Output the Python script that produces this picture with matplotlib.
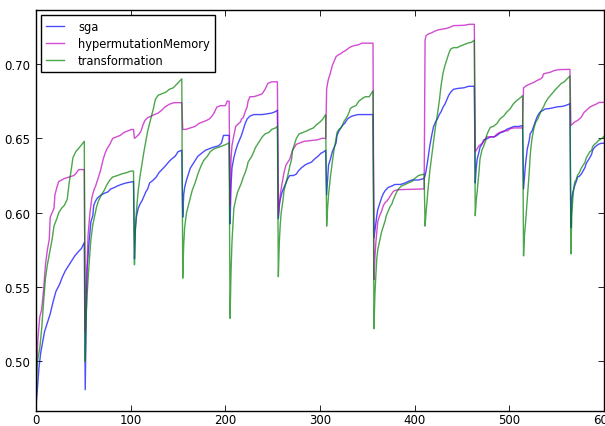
import matplotlib
matplotlib.use("Agg")
import matplotlib.pyplot as plt

# Best fitness per generation; the environment changes at the start of every block,
# which is where each curve falls before climbing again.

sga_x = [0, 2, 3, 5, 7, 9, 12, 15, 18, 21, 25, 28, 31, 35, 38, 41, 45, 48, 51,
         52, 53, 54, 56, 58, 60, 61, 63, 65, 69, 72, 76, 79, 83, 86, 90, 95, 103,
         104, 105, 106, 108, 110, 112, 114, 116, 118, 120, 122, 124, 127, 130, 133, 136, 140, 143, 147, 150, 154,
         155, 156, 157, 159, 161, 163, 165, 168, 171, 175, 179, 183, 187, 193, 196, 198, 204,
         205, 206, 207, 209, 211, 213, 215, 217, 219, 221, 223, 226, 230, 239, 249, 253, 255,
         256, 257, 258, 260, 262, 264, 266, 268, 272, 275, 277, 280, 284, 287, 291, 294, 298, 301, 304, 306,
         307, 308, 309, 311, 313, 315, 317, 318, 320, 322, 324, 326, 327, 329, 331, 334, 340, 356,
         357, 358, 359, 360, 361, 363, 365, 367, 369, 372, 376, 379, 385, 390, 393, 397, 404, 410,
         411, 412, 413, 414, 416, 418, 420, 422, 424, 426, 428, 430, 432, 434, 436, 438, 441, 446, 452, 457, 463,
         464, 465, 466, 468, 469, 471, 473, 476, 480, 484, 487, 490, 494, 497, 501, 505, 510, 514,
         515, 516, 517, 519, 521, 522, 524, 526, 528, 529, 531, 533, 535, 538, 542, 546, 549, 552, 556, 559, 563, 564,
         565, 566, 567, 569, 571, 572, 574, 576, 578, 580, 581, 583, 585, 587, 588, 590, 592, 594, 597, 600]
sga_y = [0.470, 0.486, 0.495, 0.506, 0.513, 0.520, 0.526, 0.532, 0.540, 0.547, 0.552, 0.557, 0.561, 0.565, 0.568, 0.571, 0.574, 0.576, 0.580,
         0.481, 0.530, 0.562, 0.580, 0.594, 0.598, 0.605, 0.608, 0.610, 0.612, 0.613, 0.614, 0.616, 0.617, 0.618, 0.619, 0.620, 0.621,
         0.569, 0.589, 0.597, 0.603, 0.606, 0.608, 0.611, 0.614, 0.616, 0.620, 0.621, 0.622, 0.624, 0.627, 0.629, 0.631, 0.634, 0.636, 0.638, 0.641, 0.642,
         0.597, 0.612, 0.617, 0.622, 0.626, 0.630, 0.632, 0.635, 0.638, 0.640, 0.642, 0.643, 0.644, 0.645, 0.647, 0.652, 0.652,
         0.5925, 0.618, 0.630, 0.637, 0.642, 0.646, 0.649, 0.652, 0.656, 0.660, 0.663, 0.665, 0.666, 0.666, 0.667, 0.668, 0.669,
         0.596, 0.605, 0.609, 0.614, 0.617, 0.620, 0.623, 0.625, 0.625, 0.626, 0.628, 0.630, 0.632, 0.633, 0.634, 0.636, 0.638, 0.640, 0.641, 0.642,
         0.612, 0.622, 0.632, 0.636, 0.641, 0.644, 0.647, 0.652, 0.655, 0.657, 0.659, 0.660, 0.661, 0.663, 0.664, 0.665, 0.666, 0.666,
         0.583, 0.588, 0.593, 0.598, 0.602, 0.606, 0.610, 0.613, 0.615, 0.617, 0.618, 0.619, 0.619, 0.620, 0.621, 0.622, 0.622, 0.623,
         0.625, 0.628, 0.632, 0.636, 0.645, 0.652, 0.658, 0.661, 0.663, 0.666, 0.668, 0.671, 0.673, 0.676, 0.679, 0.681, 0.683, 0.6836, 0.684, 0.685, 0.685,
         0.620, 0.630, 0.636, 0.641, 0.644, 0.646, 0.649, 0.6496, 0.651, 0.651, 0.652, 0.6536, 0.6545, 0.656, 0.657, 0.658, 0.658, 0.6586,
         0.616, 0.624, 0.632, 0.643, 0.6485, 0.653, 0.655, 0.6586, 0.662, 0.664, 0.6664, 0.668, 0.6686, 0.6698, 0.670, 0.6705, 0.671, 0.6713, 0.6715, 0.672, 0.673, 0.6735,
         0.590, 0.609, 0.6137, 0.618, 0.6216, 0.624, 0.6245, 0.626, 0.6283, 0.6305, 0.6328, 0.635, 0.637, 0.6395, 0.642, 0.644, 0.645, 0.646, 0.6467, 0.6467]

hyper_x = [0, 2, 4, 6, 8, 10, 12, 14, 15, 17, 19, 20, 22, 24, 27, 30, 35, 40, 43, 45, 51,
           52, 53, 54, 55, 57, 59, 61, 63, 66, 68, 71, 73, 75, 78, 81, 85, 89, 93, 97, 101, 103,
           104, 106, 109, 111, 113, 115, 118, 122, 125, 129, 133, 136, 141, 146, 154,
           155, 158, 163, 168, 172, 176, 180, 183, 186, 188, 191, 195, 200, 202, 204,
           205, 206, 207, 209, 211, 214, 216, 217, 219, 221, 223, 224, 226, 230, 235, 239, 242, 245, 249, 255,
           256, 258, 260, 262, 264, 266, 268, 269, 271, 273, 275, 279, 283, 290, 297, 302, 306,
           307, 308, 309, 311, 313, 315, 317, 319, 322, 324, 327, 331, 334, 341, 344, 356,
           357, 358, 359, 360, 361, 363, 365, 367, 369, 371, 372, 374, 376, 377, 379, 383, 410,
           411, 412, 414, 418, 421, 425, 430, 434, 437, 441, 452, 458, 463,
           464, 466, 468, 472, 476, 484, 487, 490, 494, 498, 501, 505, 514,
           515, 518, 522, 526, 529, 533, 535, 536, 540, 543, 547, 552, 564,
           565, 569, 572, 576, 579, 581, 585, 588, 592, 595, 600]
hyper_y = [0.485, 0.515, 0.530, 0.535, 0.548, 0.565, 0.575, 0.582, 0.597, 0.600, 0.603, 0.612, 0.617, 0.621, 0.622, 0.623, 0.624, 0.625, 0.627, 0.629, 0.629,
           0.520, 0.545, 0.565, 0.585, 0.600, 0.610, 0.615, 0.618, 0.624, 0.628, 0.636, 0.640, 0.643, 0.646, 0.650, 0.651, 0.652, 0.654, 0.655, 0.656, 0.656,
           0.650, 0.651, 0.653, 0.655, 0.659, 0.662, 0.664, 0.665, 0.666, 0.667, 0.669, 0.671, 0.673, 0.674, 0.674,
           0.656, 0.656, 0.657, 0.658, 0.660, 0.661, 0.662, 0.663, 0.665, 0.667, 0.671, 0.672, 0.672, 0.675, 0.675,
           0.605, 0.636, 0.645, 0.652, 0.658, 0.660, 0.661, 0.663, 0.664, 0.668, 0.671, 0.675, 0.678, 0.678, 0.679, 0.680, 0.683, 0.687, 0.688, 0.688,
           0.598, 0.612, 0.620, 0.627, 0.632, 0.634, 0.636, 0.638, 0.642, 0.644, 0.646, 0.647, 0.648, 0.6485, 0.649, 0.650, 0.650,
           0.683, 0.687, 0.690, 0.694, 0.699, 0.702, 0.705, 0.706, 0.707, 0.708, 0.709, 0.711, 0.712, 0.713, 0.714, 0.714,
           0.555, 0.570, 0.580, 0.587, 0.594, 0.598, 0.601, 0.605, 0.607, 0.608, 0.609, 0.611, 0.613, 0.614, 0.615, 0.6155, 0.616,
           0.716, 0.719, 0.720, 0.721, 0.722, 0.723, 0.7235, 0.724, 0.7246, 0.7258, 0.726, 0.7267, 0.7267,
           0.641, 0.643, 0.645, 0.647, 0.651, 0.651, 0.653, 0.654, 0.655, 0.655, 0.6565, 0.657, 0.657,
           0.684, 0.6854, 0.6866, 0.6877, 0.6888, 0.690, 0.691, 0.6933, 0.694, 0.6944, 0.6955, 0.6962, 0.6964,
           0.6586, 0.661, 0.662, 0.6642, 0.6675, 0.6686, 0.671, 0.672, 0.6731, 0.6742, 0.6742]

trans_x = [0, 1, 2, 4, 6, 8, 10, 12, 15, 17, 19, 22, 24, 27, 30, 33, 35, 37, 39, 42, 46, 51,
           52, 53, 54, 56, 58, 60, 62, 64, 66, 69, 72, 75, 78, 81, 86, 90, 96, 100, 103,
           104, 105, 106, 107, 108, 110, 112, 114, 116, 118, 120, 122, 124, 126, 129, 133, 137, 141, 145, 148, 151, 154,
           155, 156, 157, 159, 161, 163, 165, 168, 171, 174, 177, 181, 184, 188, 193, 197, 201, 204,
           205, 206, 207, 209, 211, 213, 215, 217, 219, 221, 223, 224, 226, 228, 230, 232, 235, 239, 242, 246, 249, 253, 255,
           256, 257, 258, 259, 261, 262, 264, 266, 268, 270, 271, 273, 275, 278, 282, 286, 289, 293, 296, 300, 303, 306,
           307, 308, 309, 311, 313, 315, 317, 318, 320, 322, 324, 325, 327, 329, 331, 332, 334, 338, 341, 345, 348, 352, 354, 356,
           357, 358, 359, 360, 361, 363, 365, 367, 369, 370, 372, 374, 376, 377, 379, 381, 383, 386, 390, 393, 397, 400, 404, 410,
           411, 412, 413, 414, 416, 418, 420, 422, 424, 426, 428, 430, 432, 434, 436, 438, 441, 445, 448, 452, 456, 460, 463,
           464, 465, 466, 468, 469, 471, 473, 475, 476, 478, 480, 483, 487, 490, 494, 497, 501, 504, 507, 511, 514,
           515, 516, 517, 519, 520, 521, 522, 523, 524, 526, 528, 530, 532, 534, 536, 538, 541, 545, 549, 552, 555, 558, 561, 564,
           565, 566, 567, 568, 569, 571, 572, 574, 576, 578, 580, 581, 583, 585, 587, 588, 590, 592, 594, 597, 599, 600]
trans_y = [0.467, 0.495, 0.502, 0.509, 0.522, 0.540, 0.556, 0.565, 0.575, 0.582, 0.591, 0.596, 0.600, 0.603, 0.605, 0.609, 0.620, 0.628, 0.637, 0.641, 0.644, 0.648,
           0.500, 0.530, 0.545, 0.565, 0.582, 0.592, 0.598, 0.604, 0.608, 0.612, 0.615, 0.619, 0.622, 0.624, 0.625, 0.626, 0.627, 0.628, 0.628,
           0.565, 0.590, 0.600, 0.608, 0.615, 0.625, 0.633, 0.641, 0.648, 0.655, 0.660, 0.665, 0.670, 0.676, 0.679, 0.680, 0.681, 0.683, 0.684, 0.686, 0.688, 0.690,
           0.556, 0.578, 0.590, 0.600, 0.605, 0.610, 0.615, 0.620, 0.626, 0.631, 0.635, 0.638, 0.641, 0.643, 0.644, 0.645, 0.646, 0.647,
           0.529, 0.560, 0.580, 0.603, 0.609, 0.614, 0.617, 0.620, 0.624, 0.627, 0.631, 0.634, 0.636, 0.638, 0.641, 0.644, 0.647, 0.651, 0.653, 0.654, 0.656, 0.657, 0.658,
           0.557, 0.580, 0.592, 0.600, 0.609, 0.615, 0.620, 0.625, 0.631, 0.636, 0.642, 0.646, 0.650, 0.653, 0.654, 0.655, 0.656, 0.657, 0.659, 0.661, 0.663, 0.666,
           0.591, 0.603, 0.612, 0.624, 0.634, 0.643, 0.650, 0.654, 0.656, 0.657, 0.659, 0.661, 0.663, 0.665, 0.668, 0.670, 0.671, 0.672, 0.675, 0.677, 0.678, 0.678, 0.680, 0.682,
           0.522, 0.545, 0.558, 0.569, 0.575, 0.581, 0.587, 0.591, 0.595, 0.598, 0.601, 0.604, 0.606, 0.608, 0.611, 0.614, 0.616, 0.618, 0.619, 0.620, 0.621, 0.623, 0.625, 0.626,
           0.591, 0.600, 0.607, 0.615, 0.628, 0.638, 0.648, 0.658, 0.666, 0.675, 0.686, 0.694, 0.699, 0.703, 0.707, 0.710, 0.711, 0.711, 0.712, 0.713, 0.714, 0.7146, 0.716,
           0.598, 0.608, 0.614, 0.628, 0.636, 0.642, 0.645, 0.6485, 0.652, 0.655, 0.6575, 0.658, 0.660, 0.663, 0.665, 0.6675, 0.670, 0.673, 0.675, 0.677, 0.6787,
           0.571, 0.585, 0.592, 0.609, 0.618, 0.627, 0.638, 0.645, 0.650, 0.657, 0.661, 0.663, 0.666, 0.669, 0.671, 0.674, 0.677, 0.680, 0.683, 0.685, 0.687, 0.688, 0.690, 0.692,
           0.5723, 0.598, 0.609, 0.616, 0.6205, 0.6227, 0.625, 0.627, 0.630, 0.632, 0.634, 0.6365, 0.6388, 0.641, 0.642, 0.6445, 0.646, 0.647, 0.6485, 0.6496, 0.6507, 0.6514]

series_names = ["sga", "hypermutationMemory", "transformation"]
x_ticks = [0, 100, 200, 300, 400, 500, 600]
y_ticks = [0.50, 0.55, 0.60, 0.65, 0.70]

plt.rcParams.update({
    "font.family": "DejaVu Sans",
    "xtick.direction": "in",
    "ytick.direction": "in",
    "xtick.top": True,
    "ytick.right": True,
    "xtick.major.size": 4,
    "ytick.major.size": 4,
    "xtick.major.width": 0.6,
    "ytick.major.width": 0.6,
})

fig = plt.figure(figsize=(6.05, 4.27), dpi=100)
ax = fig.add_axes([36 / 605, 1 - 412 / 427, (604 - 36) / 605, (412 - 11) / 427])

ax.plot(sga_x, sga_y, color=(0, 0, 1), alpha=0.7, lw=1.0, label=series_names[0])
ax.plot(hyper_x, hyper_y, color=(0.75, 0, 0.75), alpha=0.7, lw=1.0, label=series_names[1])
ax.plot(trans_x, trans_y, color=(0, 0.5, 0), alpha=0.7, lw=1.0, label=series_names[2])

ax.set_xlim(0, 600)
ax.set_ylim(0.4667, 0.7363)
ax.set_xticks(x_ticks)
ax.set_yticks(y_ticks)
ax.set_yticklabels([f"{v:.2f}" for v in y_ticks])
ax.tick_params(axis="y", labelsize=8.5, pad=4)
ax.tick_params(axis="x", labelsize=8.5, pad=1.5)
for s in ax.spines.values():
    s.set_linewidth(1.0)

leg = ax.legend(loc="upper left", fontsize=8.3, frameon=True, fancybox=False,
                handlelength=1.6, handletextpad=1.2, borderpad=0.45,
                labelspacing=0.35, borderaxespad=0.4, framealpha=1)
leg.get_frame().set_edgecolor("black")
leg.get_frame().set_linewidth(1.0)

fig.savefig("out.png", dpi=100, facecolor="white")
